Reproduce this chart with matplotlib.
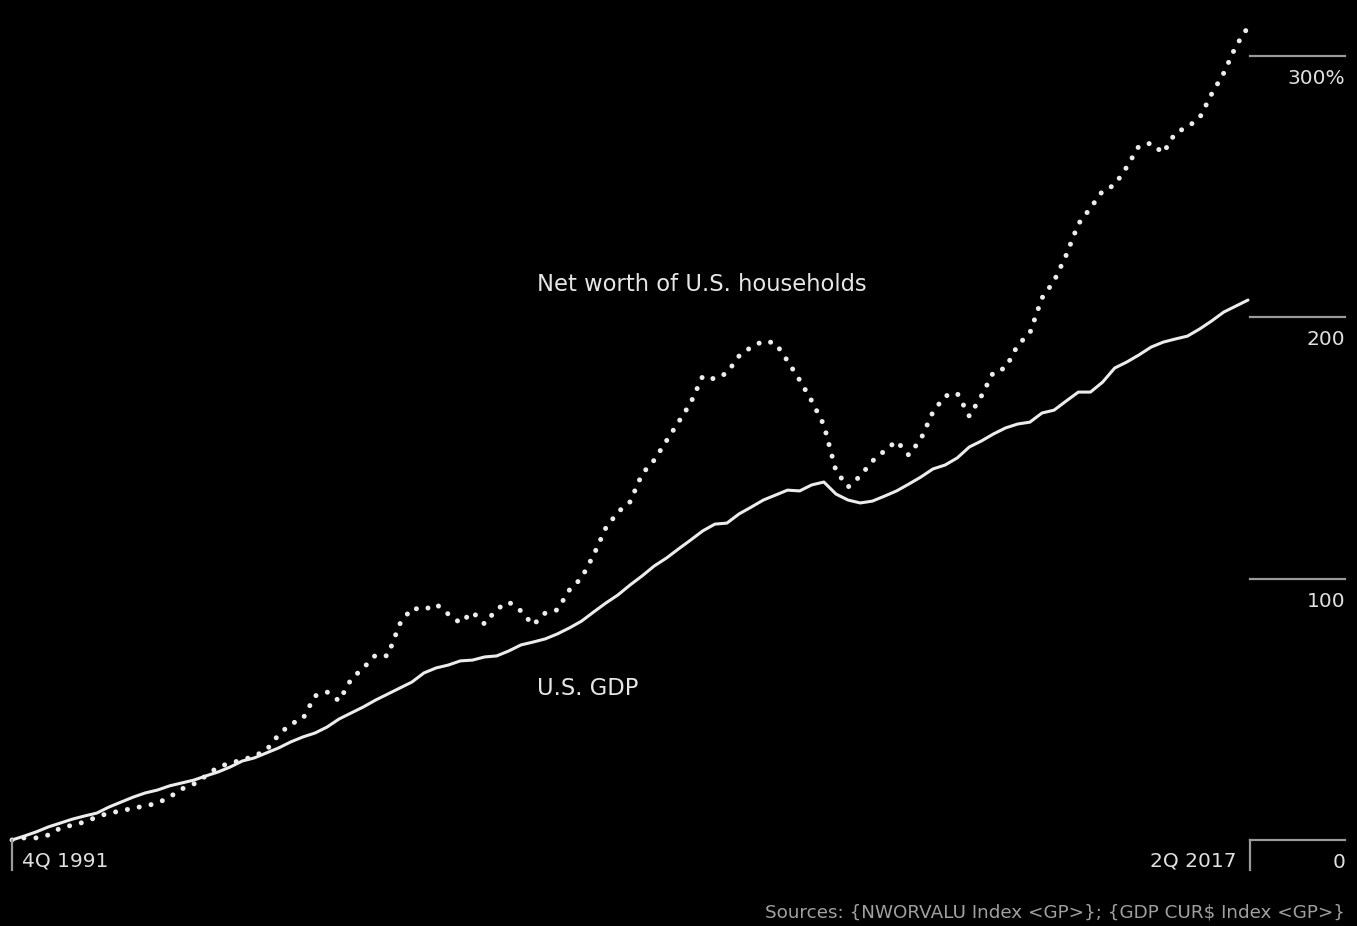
import numpy as np
import matplotlib
matplotlib.use('Agg')
import matplotlib.pyplot as plt
import matplotlib.transforms as mtransforms

# quarterly, 4Q 1991 .. 2Q 2017, cumulative % change
gdp = [0, 1.5, 3.1, 5.0, 6.5, 8.0, 9.2, 10.3, 12.6, 14.5,
       16.4, 18.0, 19.1, 20.7, 21.8, 22.9, 24.5, 26.0, 27.9, 30.2,
       31.4, 33.3, 35.2, 37.5, 39.4, 40.9, 43.2, 46.3, 48.6, 50.9,
       53.5, 55.8, 58.1, 60.4, 63.9, 65.8, 66.9, 68.5, 68.8, 70.0,
       70.4, 72.3, 74.6, 75.7, 76.9, 78.8, 81.1, 83.7, 87.2, 90.6,
       93.7, 97.5, 101.0, 104.8, 107.8, 111.3, 114.7, 118.2, 120.8, 121.2,
       124.7, 127.3, 130.0, 131.9, 133.8, 133.5, 135.8, 136.9, 132.3, 130.0,
       128.9, 129.6, 131.5, 133.5, 136.1, 138.8, 141.9, 143.4, 146.1, 150.3,
       152.6, 155.3, 157.6, 159.1, 159.8, 163.3, 164.4, 167.9, 171.3, 171.3,
       175.1, 180.5, 182.8, 185.5, 188.5, 190.4, 191.6, 192.7, 195.4, 198.5,
       201.9, 204.2, 206.5]

net_worth = [0, 0.8, 0.8, 1.9, 4.6, 5.7, 6.9, 8.8, 10.3, 11.1,
             12.2, 13.0, 14.1, 16.4, 19.5, 21.4, 24.5, 27.9, 29.4, 30.6,
             32.1, 34.4, 40.2, 44.4, 46.3, 55.1, 56.6, 53.2, 61.6, 65.8,
             70.7, 70.4, 82.6, 88.7, 88.0, 90.2, 86.4, 83.0, 87.2, 82.6,
             88.3, 91.0, 87.6, 82.2, 86.8, 88.0, 95.6, 100.2, 109.0, 119.3,
             125.4, 129.3, 140.0, 145.3, 152.6, 159.8, 167.1, 177.4, 176.3, 178.6,
             185.1, 188.5, 190.8, 190.1, 183.2, 175.9, 167.9, 158.7, 141.1, 135.0,
             139.2, 144.9, 148.8, 152.6, 147.2, 153.3, 163.7, 169.8, 170.9, 162.1,
             169.8, 179.0, 180.5, 189.3, 193.9, 207.3, 213.8, 223.7, 235.6, 241.7,
             248.2, 250.5, 257.4, 265.4, 266.5, 262.7, 270.4, 272.7, 276.1, 285.3,
             293.3, 303.6, 310.9]

y_ticks = [0, 100, 200, 300]
y_tick_labels = ['0', '100', '200', '300%']
start_label = '4Q 1991'
end_label = '2Q 2017'

x = np.arange(len(gdp))

fig = plt.figure(figsize=(13.57, 9.26), dpi=100, facecolor='black')
ax = fig.add_axes([12 / 1357, 1 - 840 / 926, 1236 / 1357, 820 / 926])
ax.set_facecolor('black')
ax.set_xlim(0, len(gdp) - 1)
ax.set_ylim(0, 313.6)
for s in ax.spines.values():
    s.set_visible(False)
ax.set_xticks([])
ax.set_yticks([])

line_col = '#ececec'
ax.plot(x, gdp, color=line_col, lw=2.2, solid_capstyle='round', clip_on=False)
ax.plot(x, net_worth, color=line_col, lw=3.6, linestyle=(0, (0.01, 2.4)),
        dash_capstyle='round', clip_on=False)

# series labels
ax.text(43.3, 212.6, 'Net worth of U.S. households', color='#e6e6e6',
        fontsize=16.3, ha='left', va='center')
ax.text(43.3, 58.1, 'U.S. GDP', color='#e6e6e6',
        fontsize=16.3, ha='left', va='center')

# right-hand scale
trans = mtransforms.blended_transform_factory(ax.transAxes, ax.transData)
for v, lab in zip(y_ticks, y_tick_labels):
    ax.plot([1.0016, 1.0785], [v, v], color='#9a9a9a', lw=1.6,
            transform=trans, clip_on=False)
    ax.text(1.0785, v - 8.7, lab, color='#e0e0e0', fontsize=14.5,
            ha='right', va='center', transform=trans)

# start / end markers
px = ax.transAxes.inverted()
ax.plot([0, 0], [0, -30 / 820], color='#9a9a9a', lw=1.6,
        transform=ax.transAxes, clip_on=False)
ax.plot([1.0016, 1.0016], [0, -30 / 820], color='#9a9a9a', lw=1.6,
        transform=ax.transAxes, clip_on=False)
ax.text(10 / 1236, -21 / 820, start_label, color='#e0e0e0', fontsize=14.5,
        ha='left', va='center', transform=ax.transAxes)
ax.text(1 - 11 / 1236, -21 / 820, end_label, color='#e0e0e0', fontsize=14.5,
        ha='right', va='center', transform=ax.transAxes)

fig.text(1345 / 1357, 1 - 912 / 926,
         'Sources: {NWORVALU Index <GP>}; {GDP CUR$ Index <GP>}',
         color='#a0a0a0', fontsize=13.2, ha='right', va='center')

fig.savefig('out.png', dpi=100, facecolor='black')
